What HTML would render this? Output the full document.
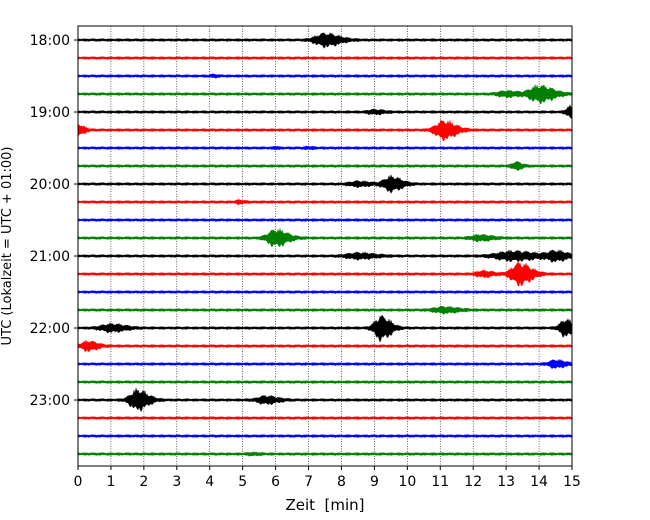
<!DOCTYPE html>
<html><head><meta charset="utf-8"><style>
body{margin:0;background:#fff}
svg{display:block;font-family:"DejaVu Sans","Liberation Sans",sans-serif}
</style></head><body>
<svg id="chart" width="650" height="520" viewBox="0 0 650 520">
<rect width="650" height="520" fill="#fff"/>
<g id="grid"></g>
<g id="traces"></g>
<rect x="78" y="26" width="494" height="440" fill="none" stroke="#000" stroke-width="1"/>
<g id="xticks"></g>
<g id="yticks"></g>
<text x="325" y="510" font-size="15" text-anchor="middle" style="white-space:pre">Zeit  [min]</text>
<text transform="translate(11,246) rotate(-90)" font-size="13" text-anchor="middle">UTC (Lokalzeit = UTC + 01:00)</text>
</svg>
<script>
const xTicks=[0,1,2,3,4,5,6,7,8,9,10,11,12,13,14,15];
const hourLabels=["18:00","19:00","20:00","21:00","22:00","23:00"];
const traceColors=["#000","#f00","#00f","#008000"];
// events per trace: [minute, amplitude(px), width(min)]
const events0=[[7.5,7,0.6]];
const events1=[];
const events2=[[4.1,1,0.2]];
const events3=[[14,9,0.6],[13,3,0.5]];
const events4=[[15,7,0.3],[9,2,0.4]];
const events5=[[0,6,0.25],[11.1,10,0.5]];
const events6=[[6,1.5,0.1],[7,1,0.2]];
const events7=[[13.3,4,0.25]];
const events8=[[9.5,8,0.45],[8.5,2.5,0.5]];
const events9=[[4.9,1.5,0.2]];
const events10=[];
const events11=[[6,9,0.5],[12.2,3,0.5]];
const events12=[[8.5,3,0.7],[13.2,5,1.0],[14.5,5,0.5]];
const events13=[[13.4,12,0.5],[12.3,3,0.4]];
const events14=[];
const events15=[[11.1,3,0.6]];
const events16=[[1,4,0.6],[9.2,13,0.4],[14.8,9,0.35]];
const events17=[[0.3,5,0.4]];
const events18=[[14.5,4,0.4]];
const events19=[];
const events20=[[1.8,11,0.45],[5.7,4,0.5]];
const events21=[];
const events22=[];
const events23=[[5.3,1,0.3]];
const allEvents=[events0,events1,events2,events3,events4,events5,events6,events7,events8,events9,events10,events11,events12,events13,events14,events15,events16,events17,events18,events19,events20,events21,events22,events23];
const noiseAmp=1.5;

const NS="http://www.w3.org/2000/svg";
const x0=78,x1=572,y0=26,y1=466;
const xs=m=>x0+(m-0)/(15-0)*(x1-x0);
const ys=i=>40+i*18;
function mk(t,a){const e=document.createElementNS(NS,t);for(const k in a)e.setAttribute(k,a[k]);return e;}
const grid=document.getElementById('grid'),xt=document.getElementById('xticks'),yt=document.getElementById('yticks'),tr=document.getElementById('traces');
xTicks.forEach(v=>{
 const X=xs(v);
 if(v>0&&v<15){const l=mk('line',{x1:X,x2:X,y1:y0,y2:y1,stroke:'#000','stroke-width':0.6,'stroke-dasharray':'1,1.5'});
 
 grid.appendChild(l);}
 const tk=mk('line',{x1:X,x2:X,y1:y1,y2:y1+4,stroke:'#000'});
 
 xt.appendChild(tk);
 const t=mk('text',{x:X,y:y1+20,'font-size':14,'text-anchor':'middle'});t.textContent=v;
 
 xt.appendChild(t);
});
hourLabels.forEach((h,k)=>{
 const Y=ys(k*4);
 const tk=mk('line',{x1:x0-4,x2:x0,y1:Y,y2:Y,stroke:'#000'});
 
 yt.appendChild(tk);
 const t=mk('text',{x:x0-8,y:Y+5,'font-size':14,'text-anchor':'end'});t.textContent=h;
 
 yt.appendChild(t);
});
allEvents.forEach((ev,i)=>{
 const base=ys(i);let top=[],bot=[];
 for(let px=x0;px<=x1;px+=1){
  const m=(px-x0)/(x1-x0)*15;
  let env=noiseAmp;
  ev.forEach(([c,a,w])=>{const d=(m-c)/w;env+=a*Math.exp(-d*d*(d<0?3:1.2));});
  const j1=0.5+0.5*Math.abs(Math.sin(px*1.7)*Math.cos(px*0.37));
  const j2=0.5+0.5*Math.abs(Math.sin(px*2.3+1)*Math.cos(px*0.29));
  top.push(px+','+(base-env*j1).toFixed(1));
  bot.unshift(px+','+(base+env*j2).toFixed(1));
 }
 const p=mk('polygon',{points:top.concat(bot).join(' '),fill:traceColors[i%4],stroke:traceColors[i%4],'stroke-width':0.4});
 
 
 tr.appendChild(p);
});
</script>
</body></html>
